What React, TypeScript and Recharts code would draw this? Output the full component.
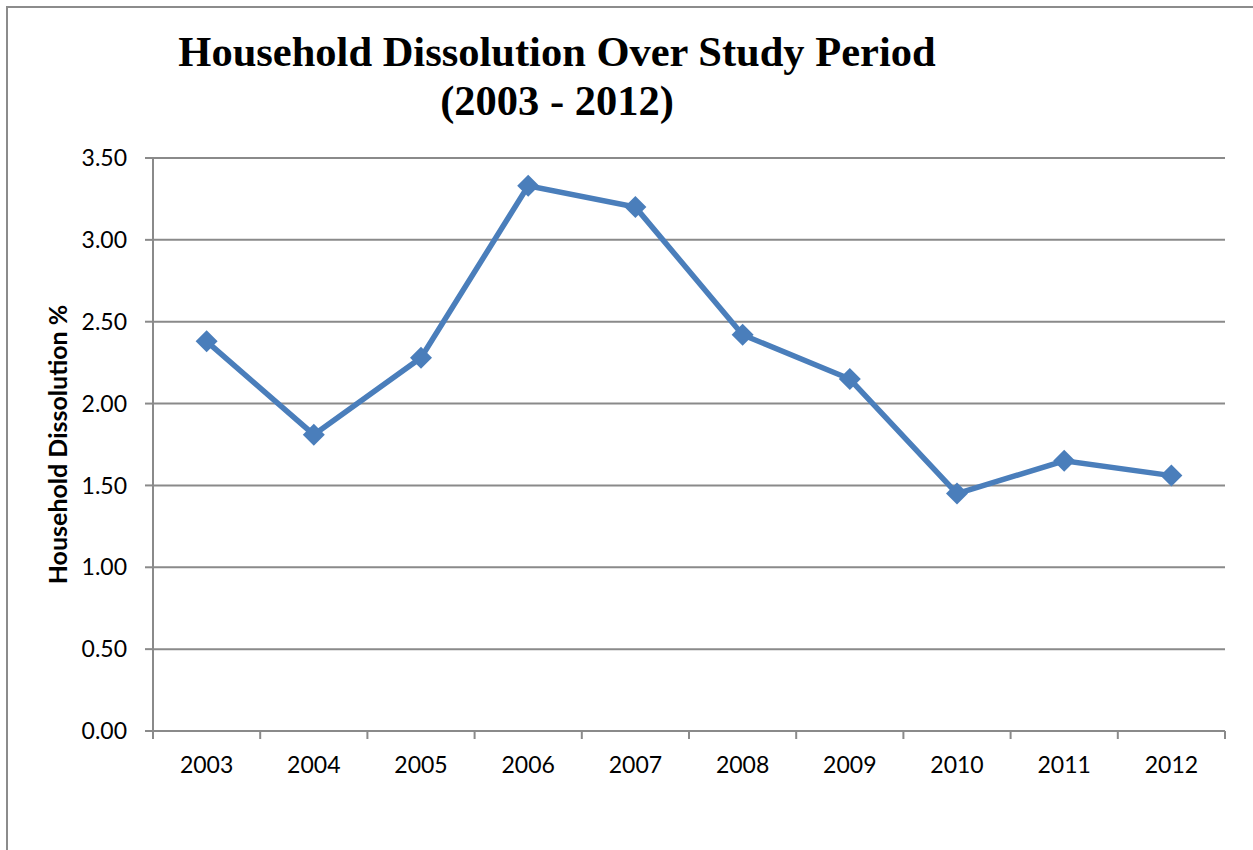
import { LineChart, Line, XAxis, YAxis, CartesianGrid } from "recharts";

const YEARS = ["2003", "2004", "2005", "2006", "2007", "2008", "2009", "2010", "2011", "2012"];
const DISSOLUTION = [2.38, 1.81, 2.28, 3.33, 3.2, 2.42, 2.15, 1.45, 1.65, 1.56];
const Y_TICKS = [0, 0.5, 1, 1.5, 2, 2.5, 3, 3.5];

const data = YEARS.map((year, i) => ({ year, value: DISSOLUTION[i] }));

const BLUE = "#4A7EBB";
const GRID = "#8a8a8a";
const HALF_BAND = 53.6;
const TICK_FONT = "Lato, 'Open Sans', sans-serif";

const Diamond = (props: any) => {
  const { cx, cy } = props;
  if (cx == null || cy == null) return null;
  const r = 11;
  return (
    <polygon
      points={`${cx},${cy - r} ${cx + r},${cy} ${cx},${cy + r} ${cx - r},${cy}`}
      fill={BLUE}
    />
  );
};

const YearTick = (props: any) => {
  const { x, y, payload, index } = props;
  const last = index === YEARS.length - 1;
  return (
    <g>
      <line x1={x - HALF_BAND} x2={x - HALF_BAND} y1={y} y2={y + 8} stroke={GRID} strokeWidth={2} />
      {last && <line x1={x + HALF_BAND} x2={x + HALF_BAND} y1={y} y2={y + 8} stroke={GRID} strokeWidth={2} />}
      <text x={x} y={y + 42} textAnchor="middle" fill="#000" fontSize={23} fontFamily={TICK_FONT}>
        {payload.value}
      </text>
    </g>
  );
};

export default function App() {
  return (
    <div style={{ position: "absolute", left: 0, top: 0, width: 1253, height: 850, overflow: "hidden", background: "#fff" }}>
      {/* frame of the chart object, only its top and left edges show */}
      <div style={{ position: "absolute", left: 6, top: 6, width: 1400, height: 1000, border: "2px solid #8c8c8c" }} />

      {/* Title */}
      <div style={{ position: "absolute", left: 157, width: 800, top: 27, textAlign: "center", whiteSpace: "nowrap",
        fontFamily: "'Liberation Serif', 'Times New Roman', serif", fontWeight: "bold", fontSize: 42.5, lineHeight: "49px", color: "#000" }}>
        <div>Household Dissolution Over Study Period</div>
        <div>(2003 - 2012)</div>
      </div>

      <div style={{ position: "absolute", left: 0, top: 0 }}>
        <LineChart width={1253} height={850} data={data} margin={{ top: 158, right: 28, left: 0, bottom: 79 }}>
          <CartesianGrid vertical={false} stroke={GRID} strokeWidth={2} />
          <XAxis dataKey="year" height={40} padding={{ left: HALF_BAND, right: HALF_BAND }}
            axisLine={{ stroke: GRID, strokeWidth: 2 }} tickLine={false} tickSize={0} tickMargin={0}
            tick={<YearTick />} interval={0} />
          <YAxis domain={[0, 3.5]} ticks={Y_TICKS} width={153} interval={0}
            tickFormatter={(v: number) => v.toFixed(2)}
            axisLine={{ stroke: GRID, strokeWidth: 2 }} tickLine={{ stroke: GRID, strokeWidth: 2 }}
            tickSize={8} tickMargin={18}
            tick={{ fill: "#000", fontSize: 23, fontFamily: TICK_FONT }}
            label={{ value: "Household Dissolution %", angle: -90, position: "insideLeft", offset: 58,
              style: { fontFamily: TICK_FONT, fontWeight: "bold", fontSize: 25, fill: "#000", textAnchor: "middle" } }} />
          <Line type="linear" dataKey="value" stroke={BLUE} strokeWidth={5.5}
            dot={<Diamond />} activeDot={false} isAnimationActive={false} />
        </LineChart>
      </div>
    </div>
  );
}
